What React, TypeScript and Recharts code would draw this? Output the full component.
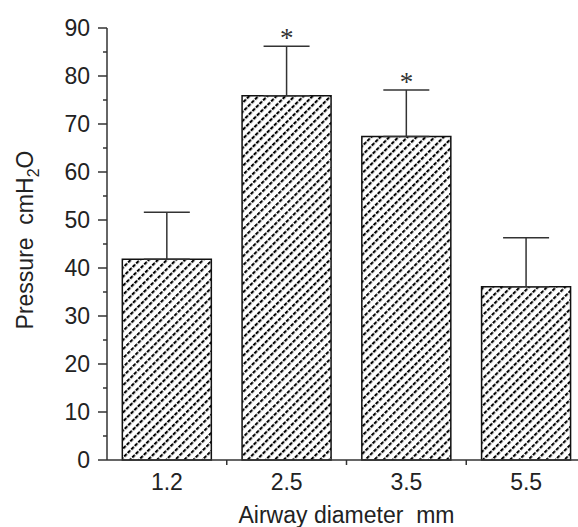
import { BarChart, Bar, XAxis, YAxis, ErrorBar, ReferenceDot } from "recharts";

const diameters = ["1.2", "2.5", "3.5", "5.5"];
const pressure = [41.8, 75.9, 67.4, 36.1];
const errorUp = [9.8, 10.3, 9.7, 10.2];
const significance = ["", "*", "*", ""];
const yTicks = [0, 5, 10, 15, 20, 25, 30, 35, 40, 45, 50, 55, 60, 65, 70, 75, 80, 85, 90];

const data = diameters.map((d, i) => ({
  diameter: d,
  pressure: pressure[i],
  err: [0, errorUp[i]],
}));

const FONT = "'Liberation Sans Narrow', 'Arial Narrow', 'Liberation Sans', Arial, sans-serif";
const INK = "#222";

const YTick = (props: any) => {
  const { x, y, payload } = props;
  const major = payload.value % 10 === 0;
  return (
    <g>
      <line x1={x - (major ? 9 : 4)} x2={x} y1={y} y2={y} stroke="#333" strokeWidth={1.5} />
      {major && (
        <text x={x - 17} y={y} dy={8} textAnchor="end" fontFamily={FONT} fontSize={23} fill={INK}>
          {payload.value}
        </text>
      )}
    </g>
  );
};

const XTick = (props: any) => {
  const { x, y, payload, index } = props;
  const half = payload.offset ?? 0;
  return (
    <g>
      <text x={x} y={y + 30} textAnchor="middle" fontFamily={FONT} fontSize={23} fill={INK}>
        {payload.value}
      </text>
      {index < diameters.length - 1 && (
        <line x1={x + half} x2={x + half} y1={y} y2={y + 5} stroke="#333" strokeWidth={1.5} />
      )}
    </g>
  );
};

const XTitle = (props: any) => {
  const { x, y, width } = props.viewBox;
  return (
    <text x={x + width / 2} y={y + 63} textAnchor="middle" fontFamily={FONT} fontSize={23} fill={INK}>
      Airway diameter{"\u00a0 "}mm
    </text>
  );
};

const YTitle = (props: any) => {
  const { y, height } = props.viewBox;
  const cx = 33;
  const cy = y + height / 2 - 4;
  return (
    <text
      x={cx}
      y={cy}
      transform={`rotate(-90 ${cx} ${cy})`}
      textAnchor="middle"
      fontFamily={FONT}
      fontSize={23}
      fill={INK}
    >
      Pressure{"\u00a0 "}cmH
      <tspan fontSize={16} dy={6}>2</tspan>
      <tspan dy={-6}>O</tspan>
    </text>
  );
};

export default function App() {
  return (
    <div
      style={{
        position: "fixed",
        left: 0,
        top: 0,
        width: 578,
        height: 527,
        overflow: "hidden",
        background: "#fff",
      }}
    >
      <BarChart
        width={600}
        height={527}
        data={data}
        margin={{ top: 28, right: 14, bottom: 0, left: 0 }}
        barCategoryGap="12.8%"
      >
        <defs>
          <pattern
            id="hatch"
            patternUnits="userSpaceOnUse"
            width={5}
            height={6.4}
            patternTransform="rotate(-45)"
          >
            <rect width={5} height={6.4} fill="#fff" />
            <rect x={0} y={0} width={3.6} height={2.1} fill="#000" />
          </pattern>
        </defs>

        <XAxis
          dataKey="diameter"
          height={67}
          tickSize={0}
          tickMargin={0}
          tickLine={false}
          axisLine={{ stroke: "#333", strokeWidth: 1.5 }}
          tick={<XTick />}
          interval={0}
          label={XTitle}
        />

        <YAxis
          domain={[0, 90]}
          ticks={yTicks}
          interval={0}
          width={107}
          tickSize={0}
          tickMargin={0}
          tickLine={false}
          axisLine={{ stroke: "#333", strokeWidth: 1.5 }}
          tick={<YTick />}
          label={YTitle}
        />

        <Bar
          dataKey="pressure"
          fill="url(#hatch)"
          stroke="#111"
          strokeWidth={1.5}
          isAnimationActive={false}
        >
          <ErrorBar dataKey="err" width={23} stroke="#333" strokeWidth={1.5} direction="y" />
        </Bar>

        {diameters.map((d, i) =>
          significance[i] ? (
            <ReferenceDot
              key={d}
              x={d}
              y={pressure[i] + errorUp[i]}
              r={0}
              fill="none"
              stroke="none"
              label={{
                value: significance[i],
                position: "top",
                offset: -1,
                fontFamily: "'Liberation Serif', 'Times New Roman', serif",
                fontSize: 27,
                fill: "#333",
              }}
            />
          ) : null
        )}
      </BarChart>
    </div>
  );
}
